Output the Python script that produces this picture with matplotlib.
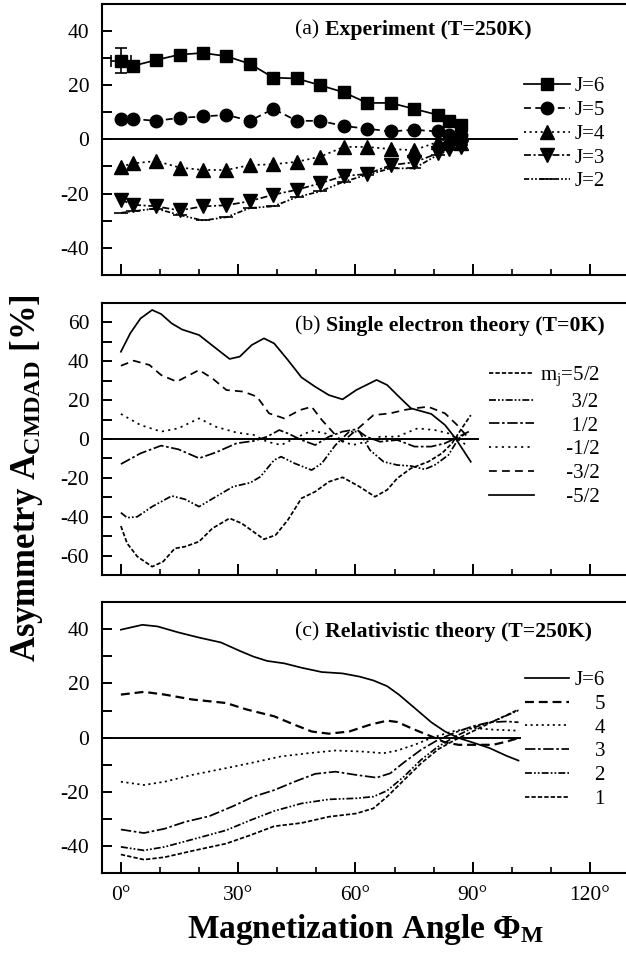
import numpy as np
import matplotlib
matplotlib.use("Agg")
import matplotlib.pyplot as plt
from matplotlib.ticker import MultipleLocator, FixedLocator

plt.rcParams['font.family'] = ['Liberation Serif', 'DejaVu Serif']
plt.rcParams['mathtext.fontset'] = 'custom'
plt.rcParams['mathtext.rm'] = 'Liberation Serif'
plt.rcParams['mathtext.bf'] = 'Liberation Serif:bold'
plt.rcParams['mathtext.it'] = 'Liberation Serif:italic'
plt.rcParams['axes.unicode_minus'] = False

# ---- (a) experiment, T=250K ----
a_x = [0, 3, 9, 15, 21, 27, 33, 39, 45, 51, 57, 63, 69, 75, 81, 84, 87]
a_j6 = [29.0, 27.0, 29.2, 31.2, 31.8, 30.6, 27.8, 22.7, 22.4, 19.9, 17.3, 13.4, 13.4, 11.2, 9.0, 6.9, 5.3]
a_j5 = [7.3, 7.5, 6.8, 7.9, 8.4, 9.0, 6.8, 11.2, 6.8, 6.8, 4.9, 3.9, 2.9, 3.5, 2.9, 1.5, 1.5]
a_j4 = [-10.1, -8.9, -8.0, -10.4, -11.3, -11.3, -9.5, -9.2, -8.3, -6.4, -2.8, -2.8, -3.6, -4.0, -1.0, 0.5, -1.2]
a_j3 = [-22.2, -24.1, -24.7, -26.2, -24.7, -24.3, -22.8, -20.4, -18.6, -16.2, -13.5, -12.8, -9.5, -8.5, -5.2, -3.4, -2.8]
a_j2 = [-27.1, -26.5, -25.5, -27.9, -29.9, -28.7, -25.3, -24.7, -21.3, -19.2, -15.6, -13.1, -10.7, -10.7, -5.8, -4.0, -2.2]
a_err_x = 2.5
a_err_y = 4.7

# ---- (b) single electron theory, T=0K ----
b_x_p52 = [0, 1.6, 4.2, 8, 10.8, 13.8, 16.4, 20, 23.4, 27.8, 30.9, 36.6, 39.6, 42.7, 46.2, 49.7, 53.2, 56.7, 61, 65, 68.1, 70.7, 74.2, 78.6, 82.1, 84.7, 86.9, 89.5]
b_y_p52 = [-44.8, -53.7, -60.5, -65.7, -63.1, -56.3, -55.4, -52.8, -46, -40.8, -43.4, -51.6, -49.4, -41.7, -30.5, -27.1, -22, -19.7, -24.5, -29.7, -26.2, -20.2, -15.1, -11.7, -7.4, -2.2, 4.6, 12.3]
b_x_p32 = [0, 1.6, 4.2, 8, 13, 16.4, 20, 24.3, 28.7, 33.1, 35.7, 39.2, 41, 44.4, 48.8, 51.4, 54.9, 58.4, 61, 63.7, 67.2, 70.7, 74.2, 77.7, 80.3, 83.8, 86.4, 88.2]
b_y_p32 = [-37.9, -40.5, -40, -34.8, -29.3, -31, -34.8, -29.7, -24.5, -22.5, -19.4, -10.8, -9.1, -12.5, -16, -12.5, -3.1, 3.8, 3.8, -5.7, -11.7, -13.4, -13.9, -15.6, -13.4, -8.2, 0.3, 2.9]
b_x_p12 = [0, 5, 10.3, 14.7, 20, 24.3, 29.6, 34, 37.4, 40.5, 42.7, 46.2, 49.7, 53.2, 56.7, 60.2, 62.8, 66.3, 70.7, 75.1, 79.4, 82.9, 86.4, 89]
b_y_p12 = [-12.9, -7.4, -3.4, -5.3, -9.9, -6.9, -2.2, -1, 1.2, 4.6, 2.9, -0.5, -3.1, 1.2, 3.8, 5, 1.2, -1.4, -0.5, -3.9, -3.9, -2.2, 1.2, 3.8]
b_x_m12 = [0, 5, 10.3, 14.7, 20, 24.3, 29.6, 34, 37.4, 41, 44.4, 48.8, 52.3, 55.8, 59.3, 62.8, 66.3, 70.7, 75.9, 80.3, 83.8, 86.4, 89]
b_y_m12 = [12.9, 7.2, 3.8, 5.5, 10.6, 6.3, 3.3, 2.1, -1.4, -3.1, 0.3, 4.3, 2.9, -0.5, -3.1, -1.4, 1.2, 1.2, 5.5, 4.6, 2.9, -0.5, -3.9]
b_x_m32 = [0, 3.3, 7.3, 10.3, 14.3, 20, 23.4, 27, 31.3, 34.8, 37.9, 41.8, 45.8, 48.8, 51.4, 54.5, 56.7, 60.2, 64.6, 68.9, 72.4, 75.1, 78.6, 82.9, 86, 88.6]
b_y_m32 = [37.7, 40.3, 38.1, 32.9, 29.5, 35.5, 31.2, 25.2, 24.4, 21.8, 13.2, 10.6, 14.9, 16.6, 9.8, 2.9, -1.4, 4.6, 12.3, 13.2, 14.9, 15.8, 16.6, 13.2, 7.2, 1.2]
b_x_m52 = [0, 2.4, 5, 8, 10.3, 13, 15.6, 20, 24.3, 27.8, 30.4, 33.5, 36.6, 39.2, 42.7, 46.2, 49.7, 53.2, 56.7, 60.2, 65.4, 68.1, 71.1, 74.2, 79.4, 82.9, 85.6, 89.5]
b_y_m52 = [44.9, 54.4, 62, 66.4, 64.3, 59.5, 56.4, 53.5, 46.7, 41.2, 42.4, 48.4, 51.8, 49.2, 40.7, 31.7, 26.9, 22.6, 20.4, 25.2, 30.4, 27.8, 21.8, 15.8, 12.9, 7.2, 0.3, -11.7]

# ---- (c) relativistic theory, T=250K ----
c_x6 = [0, 5.5, 9.4, 14.7, 20, 25.6, 30.4, 33.9, 37.4, 41.8, 46.2, 51.4, 56.7, 61.1, 64.6, 68.1, 71.1, 75.1, 79.4, 82.9, 86.4, 89.9, 94.3, 98.7, 101.7]
c_y6 = [39.8, 41.6, 41, 38.8, 36.9, 35.1, 32, 29.9, 28.3, 27.4, 25.8, 24.2, 23.7, 22.5, 21.1, 19, 15.9, 11, 5.7, 2.3, -0.1, -1.7, -3.8, -6.7, -8.4]
c_x5 = [0, 5.9, 11.2, 18.2, 26.9, 32.2, 39.2, 44.4, 48.8, 53.2, 58.4, 63.7, 68.1, 70.7, 75.1, 79.4, 82.9, 86.4, 89.9, 95.2, 98.7, 101.7]
c_y5 = [15.9, 16.9, 15.9, 14.1, 12.8, 10.4, 7.9, 4.8, 2.3, 1.5, 2.3, 4.8, 6.3, 5.8, 3, 0.5, -1.7, -2.6, -2.6, -2.6, -1.4, -0.1]
c_x4 = [0, 5.9, 11.2, 18.2, 26.9, 33.9, 40.9, 47.9, 54.9, 61.9, 67.2, 70.7, 75.1, 79.4, 84.7, 89.9, 95.2, 101.7]
c_y4 = [-16.2, -17.4, -16.2, -13.7, -11.2, -9.1, -6.9, -5.7, -4.7, -5.1, -5.7, -4.7, -2.6, -0.1, 2.3, 3.6, 3, 2.6]
c_x3 = [0, 5.9, 11.2, 16.4, 22.6, 28.7, 33.9, 39.2, 44.4, 49.7, 54.9, 60.2, 65.4, 68.9, 72.4, 76.8, 81.2, 85.6, 89.9, 94.3, 98.7, 101.7]
c_y3 = [-33.8, -35.1, -33.5, -31, -28.9, -25.2, -21.7, -19.3, -16.2, -13.3, -12.5, -13.7, -14.7, -13.1, -9.1, -4.4, -0.7, 2, 4.2, 5.7, 6, 5.7]
c_x2 = [0, 5.9, 11.2, 18.2, 26.9, 33.1, 39.2, 46.2, 53.2, 60.2, 64.6, 68.1, 72.4, 76.8, 81.2, 85.6, 89.9, 95.2, 101.7]
c_y2 = [-40.2, -41.5, -40.2, -37.5, -34.1, -30.4, -27, -24.2, -22.7, -22.3, -21.7, -19.5, -14.3, -8.1, -3.2, 0.5, 3.6, 6, 10.1]
c_x1 = [0, 5.9, 11.2, 18.2, 26.9, 33.1, 39.2, 46.2, 53.2, 60.2, 64.6, 68.1, 72.4, 76.8, 81.2, 85.6, 89.9, 95.2, 101.7]
c_y1 = [-43, -44.9, -44, -41.7, -39, -35.9, -32.6, -31.4, -29.1, -27.9, -26, -21.7, -15.6, -9.4, -4.2, -0.7, 2.3, 6, 10.4]

x_ticks = [0, 30, 60, 90, 120]
x_ticklabels = ['0°', '30°', '60°', '90°', '120°']
zero_end = [101.3, 91.3, 102.0]
XL = (-4.9, 129.2)

fig = plt.figure(figsize=(6.26, 9.64), dpi=100)
left, width = 0.1625, 0.8375
ax_a = fig.add_axes([left, 0.7147, width, 0.2816])
ax_b = fig.add_axes([left, 0.4035, width, 0.2822])
ax_c = fig.add_axes([left, 0.0939, width, 0.2816])

for ax, yl, zend in [(ax_a, 50, zero_end[0]), (ax_b, 70, zero_end[1]), (ax_c, 50, zero_end[2])]:
    ax.set_xlim(*XL)
    ax.set_ylim(-yl, yl)
    ax.spines['right'].set_visible(False)
    for s in ['left', 'top', 'bottom']:
        ax.spines[s].set_linewidth(1.5)
    ax.xaxis.set_major_locator(FixedLocator(x_ticks))
    ax.xaxis.set_minor_locator(MultipleLocator(10))
    ax.yaxis.set_major_locator(MultipleLocator(20))
    ax.yaxis.set_minor_locator(MultipleLocator(10))
    ax.tick_params(axis='x', which='major', direction='in', length=8, width=1.4, top=False)
    ax.tick_params(axis='x', which='minor', direction='in', length=4.5, width=1.2, top=False)
    ax.tick_params(axis='y', which='both', direction='in', length=7, width=1.4, right=False,
                   labelsize=15.5, pad=9)
    ax.plot([XL[0], zend], [0, 0], color='black', lw=1.4)
    if ax is ax_c:
        ax.set_xticklabels(x_ticklabels)
        ax.tick_params(axis='x', labelsize=15.5, pad=9)
    else:
        ax.tick_params(axis='x', labelbottom=False)

lw = 1.25
# (a)
ax_a.errorbar(a_x[0], a_j6[0], xerr=a_err_x, yerr=a_err_y, color='black', lw=1.2, capsize=4, capthick=1.2)
ax_a.plot(a_x, a_j6, color='black', lw=lw, ls='-', marker='s', ms=8.5, label='J=6')
ax_a.plot(a_x, a_j5, color='black', lw=lw, ls=(0, (4, 2.5)), marker='o', ms=9, label='J=5')
ax_a.plot(a_x, a_j4, color='black', lw=lw, ls=(0, (1.2, 2)), marker='^', ms=9.5, label='J=4')
ax_a.plot(a_x, a_j3, color='black', lw=lw, ls=(0, (4, 1.5, 1.2, 1.5)), marker='v', ms=9.5, label='J=3')
ax_a.plot(a_x, a_j2, color='black', lw=lw, ls=(0, (3, 1.2, 1, 1.2, 1, 1.2)), marker='_', ms=10, mew=1.2, label='J=2')

# (b)
ax_b.plot(b_x_p52, b_y_p52, color='black', lw=lw, ls=(0, (2.5, 1.2)), label=r'm$_\mathrm{j}$=5/2')
ax_b.plot(b_x_p32, b_y_p32, color='black', lw=lw, ls=(0, (4, 1.2, 1, 1.2, 1, 1.2)), label='      3/2')
ax_b.plot(b_x_p12, b_y_p12, color='black', lw=lw, ls=(0, (6, 1.5, 1.5, 1.5)), label='      1/2')
ax_b.plot(b_x_m12, b_y_m12, color='black', lw=lw, ls=(0, (1.2, 2.5)), label='     -1/2')
ax_b.plot(b_x_m32, b_y_m32, color='black', lw=lw, ls=(0, (4.5, 3)), label='     -3/2')
ax_b.plot(b_x_m52, b_y_m52, color='black', lw=lw, ls='-', label='     -5/2')

# (c)
ax_c.plot(c_x6, c_y6, color='black', lw=lw, ls='-', label='J=6')
ax_c.plot(c_x5, c_y5, color='black', lw=1.6, ls=(0, (4, 2.2)), label='    5')
ax_c.plot(c_x4, c_y4, color='black', lw=lw, ls=(0, (1.2, 2)), label='    4')
ax_c.plot(c_x3, c_y3, color='black', lw=lw, ls=(0, (6, 1.5, 1.5, 1.5)), label='    3')
ax_c.plot(c_x2, c_y2, color='black', lw=lw, ls=(0, (4, 1.2, 1, 1.2, 1, 1.2)), label='    2')
ax_c.plot(c_x1, c_y1, color='black', lw=lw, ls=(0, (2.5, 1.2)), label='    1')

leg_kw = dict(frameon=False, loc='center left', borderpad=0, borderaxespad=0,
              fontsize=15, handletextpad=0.25, labelspacing=0.2, numpoints=1)
ax_a.legend(bbox_to_anchor=(0.805, 0.519), handlelength=2.2, **leg_kw)
ax_b.legend(bbox_to_anchor=(0.738, 0.512), handlelength=2.2, **leg_kw)
ax_c.legend(bbox_to_anchor=(0.808, 0.493), handlelength=2.1, **leg_kw)

# panel titles: letter in regular weight, rest in bold
titles = [(ax_a, 0.902, '(a)', 'Experiment (T=250K)'),
          (ax_b, 0.915, '(b)', 'Single electron theory (T=0K)'),
          (ax_c, 0.889, '(c)', 'Relativistic theory (T=250K)')]
for ax, ty, tag, rest in titles:
    t = ax.text(0.3687, ty, tag, transform=ax.transAxes, fontsize=15.7, va='center', ha='left')
    ax.annotate(rest, xy=(1, 0.5), xycoords=t, xytext=(4, 0), textcoords='offset points',
                fontsize=15.7, fontweight='bold', va='center', ha='left')

fig.text(0.043, 0.504, r'Asymmetry A$_{\mathbf{CMDAD}}$ [%]', rotation=90,
         fontsize=25, fontweight='bold', ha='center', va='center')
fig.text(0.584, 0.027, r'Magnetization Angle Φ$_{\mathbf{M}}$', fontsize=24,
         fontweight='bold', ha='center', va='baseline')

fig.savefig('out.png', dpi=100)
